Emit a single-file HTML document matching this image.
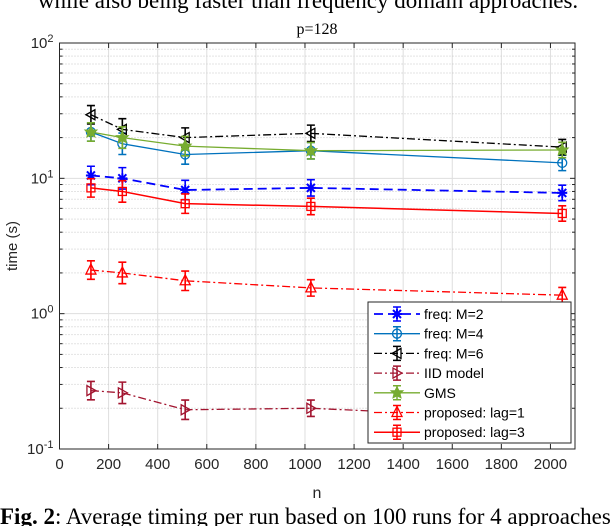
<!DOCTYPE html>
<html><head><meta charset="utf-8">
<style>
body{margin:0;background:#fff;width:610px;height:526px;overflow:hidden;}
svg{display:block;font-family:"Liberation Sans",sans-serif;}
</style></head>
<body>
<svg id="chart" width="610" height="526" viewBox="0 0 610 526" xmlns="http://www.w3.org/2000/svg">
<text x="308" y="8" text-anchor="middle" font-family="Liberation Serif,serif" font-size="23">while also being faster than frequency domain approaches.</text>
<text x="317" y="34" text-anchor="middle" font-family="Liberation Serif,serif" font-size="16">p=128</text>
<g id="grid"></g>
<g id="series"></g>
<rect x="59.5" y="43" width="515.5" height="406" fill="none" stroke="#262626" stroke-width="1"/>
<g id="ticks"></g>
<text x="317" y="498" text-anchor="middle" font-size="16" fill="#262626">n</text>
<text transform="translate(17,246) rotate(-90)" text-anchor="middle" font-size="15" fill="#262626">time (s)</text>
<g id="legend"></g>
<text x="0" y="524" font-family="Liberation Serif,serif" font-size="23"><tspan font-weight="bold">Fig. 2</tspan>: Average timing per run based on 100 runs for 4 approaches</text>
</svg>
<script>
const nValues=[128,256,512,1024,2048];
const freqM2=[10.5,10,8.2,8.5,7.8];
const freqM4=[22,18,15,16,13];
const freqM6=[29.5,23,20,21.5,17];
const iidModel=[0.27,0.26,0.195,0.2,0.165];
const gms=[22,20,17.3,16,16.2];
const lag1=[2.1,2.0,1.75,1.55,1.37];
const lag3=[8.5,8,6.5,6.2,5.5];
const errFrac=[0.17,0.2,0.18,0.15,0.14];
const xTicks=[0,200,400,600,800,1000,1200,1400,1600,1800,2000];
const yDecades=[-1,0,1,2];

const L=59.5,R=575,T=43,B=449,XMAX=2100;
const X=v=>L+v/XMAX*(R-L);
const Y=v=>B-(Math.log10(v)+1)/3*(B-T);
const NS="http://www.w3.org/2000/svg";
function mk(tag,parent,attrs){const e=document.createElementNS(NS,tag);for(const k in attrs)e.setAttribute(k,attrs[k]);parent.appendChild(e);return e;}
const grid=document.getElementById('grid'),ticks=document.getElementById('ticks'),ser=document.getElementById('series'),leg=document.getElementById('legend');

xTicks.forEach(t=>{
  const x=X(t);
  const g=mk('line',grid,{x1:x,x2:x,y1:T,y2:B,stroke:'#dedede','stroke-width':1});
  
  
  mk('line',ticks,{x1:x,x2:x,y1:B,y2:B-5,stroke:'#262626'});
  mk('line',ticks,{x1:x,x2:x,y1:T,y2:T+5,stroke:'#262626'});
  const tx=mk('text',ticks,{x:x,y:B+20,'text-anchor':'middle','font-size':15,fill:'#262626'});
  tx.textContent=t;
  
  
});
yDecades.forEach((d,i)=>{
  const y=Y(Math.pow(10,d));
  const g=mk('line',grid,{x1:L,x2:R,y1:y,y2:y,stroke:'#dedede'});
  
  
  mk('line',ticks,{x1:L,x2:L+5,y1:y,y2:y,stroke:'#262626'});
  mk('line',ticks,{x1:R,x2:R-5,y1:y,y2:y,stroke:'#262626'});
  const tx=mk('text',ticks,{x:L-6,y:y+5,'text-anchor':'end','font-size':15,fill:'#262626'});
  
  
  tx.innerHTML='10<tspan dy="-6" font-size="11">'+d+'</tspan>';
  if(i<yDecades.length-1){
    for(let m=2;m<10;m++){
      const yy=Y(m*Math.pow(10,d));
      const mg=mk('line',grid,{x1:L,x2:R,y1:yy,y2:yy,stroke:'#c8c8c8','stroke-dasharray':'1,2'});
      
      
      mk('line',ticks,{x1:L,x2:L+3,y1:yy,y2:yy,stroke:'#262626'});
      mk('line',ticks,{x1:R,x2:R-3,y1:yy,y2:yy,stroke:'#262626'});
    }
  }
});

function marker(p,type,x,y,c){
  const s=5;
  if(type==='star'){return mk('path',p,{d:`M${x-s} ${y}H${x+s}M${x} ${y-s}V${y+s}M${x-4} ${y-4}L${x+4} ${y+4}M${x-4} ${y+4}L${x+4} ${y-4}`,stroke:c,'stroke-width':2,fill:'none'});}
  if(type==='circle')return mk('circle',p,{cx:x,cy:y,r:4.5,fill:'none',stroke:c,'stroke-width':1.3});
  if(type==='tleft')return mk('path',p,{d:`M${x-5} ${y}L${x+4} ${y-5}L${x+4} ${y+5}Z`,fill:'none',stroke:c,'stroke-width':1.3});
  if(type==='tright')return mk('path',p,{d:`M${x+5} ${y}L${x-4} ${y-5}L${x-4} ${y+5}Z`,fill:'none',stroke:c,'stroke-width':1.3});
  if(type==='tup')return mk('path',p,{d:`M${x} ${y-6}L${x-5} ${y+4}L${x+5} ${y+4}Z`,fill:'none',stroke:c,'stroke-width':1.3});
  if(type==='hex')return mk('path',p,{d:`M${x} ${y-6}L${x+2} ${y-2}L${x+6} ${y-2}L${x+3} ${y+1}L${x+4} ${y+5}L${x} ${y+3}L${x-4} ${y+5}L${x-3} ${y+1}L${x-6} ${y-2}L${x-2} ${y-2}Z`,fill:c,stroke:c,'stroke-width':1});
  if(type==='square')return mk('rect',p,{x:x-4,y:y-4,width:8,height:8,fill:'none',stroke:c,'stroke-width':1.3});
}
const seriesDefs=[
 {name:'freq: M=2',key:'freq-m2',data:freqM2,color:'#0000ff',dash:'9,5',mk:'star',w:1.8},
 {name:'freq: M=4',key:'freq-m4',data:freqM4,color:'#0072bd',dash:'',mk:'circle',w:1.3},
 {name:'freq: M=6',key:'freq-m6',data:freqM6,color:'#000000',dash:'8,3,2,3',mk:'tleft',w:1.3},
 {name:'IID model',key:'iid-model',data:iidModel,color:'#a2142f',dash:'8,3,2,3',mk:'tright',w:1.3},
 {name:'GMS',key:'gms',data:gms,color:'#77ac30',dash:'',mk:'hex',w:1.3},
 {name:'proposed: lag=1',key:'proposed-lag1',data:lag1,color:'#ff0000',dash:'8,3,2,3',mk:'tup',w:1.3},
 {name:'proposed: lag=3',key:'proposed-lag3',data:lag3,color:'#ff0000',dash:'',mk:'square',w:1.5}
];
seriesDefs.forEach(s=>{
  const g=mk('g',ser,{});
  
  
  const pts=s.data.map((v,i)=>X(nValues[i])+','+Y(v)).join(' ');
  const pl=mk('polyline',g,{points:pts,fill:'none',stroke:s.color,'stroke-width':s.w,'stroke-dasharray':s.dash});
  
  
  s.data.forEach((v,i)=>{
    const x=X(nValues[i]),y1=Y(v*(1+errFrac[i])),y2=Y(v/(1+errFrac[i]));
    const eb=mk('path',g,{d:`M${x} ${y1}V${y2}M${x-4} ${y1}H${x+4}M${x-4} ${y2}H${x+4}`,stroke:s.color,'stroke-width':1.6,fill:'none'});
    
    
    const m=marker(g,s.mk,x,Y(v),s.color);
    
    
  });
});
const lb=mk('rect',leg,{x:368,y:302,width:203,height:141,fill:'#fff',stroke:'#262626'});


seriesDefs.forEach((s,i)=>{
  const y=314+i*19.7;
  const g=mk('g',leg,{});
  
  
  mk('line',g,{x1:374,x2:420,y1:y,y2:y,stroke:s.color,'stroke-width':s.w,'stroke-dasharray':s.dash});
  mk('path',g,{d:`M397 ${y-7}V${y+7}M393 ${y-7}H401M393 ${y+7}H401`,stroke:s.color,'stroke-width':1.5});
  marker(g,s.mk,397,y,s.color);
  const t=mk('text',g,{x:424,y:y+5,'font-size':14,fill:'#000'});
  t.textContent=s.name;
});
</script>
</body></html>
